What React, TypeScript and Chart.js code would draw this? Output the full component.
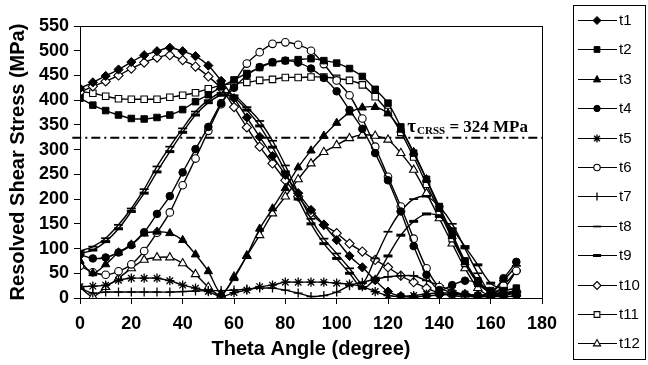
import React, { useEffect, useRef } from 'react';
import { Chart, registerables } from 'chart.js';

Chart.register(...registerables);

// Rotation angle of the loading axis (degrees)
const angles = [0, 5, 10, 15, 20, 25, 30, 35, 40, 45, 50, 55, 60, 65, 70, 75, 80, 85, 90, 95, 100, 105, 110, 115, 120, 125, 130, 135, 140, 145, 150, 155, 160, 165, 170];

// Resolved shear stress (MPa) on each of the twelve slip systems
const t1 = [424, 436, 449, 462, 477, 491, 499, 506, 499, 489, 470, 439, 404, 365, 326, 287, 249, 212, 178, 148, 117, 85, 62, 36, 13, 4, 2, 4, 6, 8, 8, 5, 3, 3, 4];
const t2 = [404, 390, 379, 370, 363, 362, 365, 370, 381, 397, 411, 427, 441, 454, 466, 476, 480, 482, 484, 480, 475, 464, 448, 422, 394, 346, 293, 240, 185, 130, 75, 35, 15, 15, 20];
const t3 = [75, 50, 68, 92, 108, 130, 134, 131, 117, 88, 54, 9, 40, 86, 140, 181, 222, 264, 298, 328, 354, 375, 385, 386, 373, 340, 295, 240, 180, 125, 72, 32, 10, 8, 12];
const t4 = [88, 80, 82, 92, 107, 133, 170, 206, 254, 301, 346, 394, 425, 450, 467, 477, 480, 476, 464, 445, 418, 380, 342, 293, 238, 175, 105, 47, 16, 26, 35, 30, 12, 40, 73];
const t5 = [23, 24, 26, 36, 40, 40, 40, 35, 26, 20, 13, 3, 11, 16, 23, 26, 32, 32, 32, 32, 30, 28, 23, 13, 5, 3, 5, 8, 10, 10, 8, 5, 3, 10, 15];
const t6 = [65, 52, 47, 54, 68, 95, 132, 173, 228, 282, 338, 392, 435, 474, 497, 514, 517, 512, 500, 473, 440, 410, 363, 306, 245, 185, 120, 60, 22, 10, 5, 5, 5, 25, 55];
const t7 = [20, 10, 12, 12, 12, 12, 12, 12, 13, 14, 15, 15, 16, 18, 20, 20, 16, 10, 3, 5, 12, 25, 32, 38, 43, 45, 45, 35, 25, 15, 5, 2, 3, 5, 10];
const t8 = [95, 104, 121, 148, 181, 220, 266, 306, 343, 377, 400, 415, 410, 386, 358, 318, 268, 212, 160, 120, 90, 60, 30, 80, 134, 175, 200, 205, 185, 150, 100, 50, 12, 35, 65];
const t9 = [90, 97, 114, 140, 175, 212, 255, 296, 335, 370, 395, 410, 405, 380, 348, 305, 255, 200, 150, 110, 80, 50, 20, 40, 85, 127, 155, 170, 165, 140, 104, 67, 30, 20, 55];
const t10 = [416, 428, 438, 450, 464, 476, 486, 491, 481, 468, 448, 424, 386, 345, 306, 272, 238, 205, 172, 148, 131, 110, 94, 77, 62, 45, 32, 20, 10, 5, 3, 5, 8, 10, 12];
const t11 = [418, 414, 408, 403, 402, 402, 402, 406, 410, 415, 423, 430, 434, 436, 440, 442, 446, 446, 447, 447, 444, 440, 431, 407, 377, 335, 285, 230, 175, 120, 70, 30, 12, 10, 10];
const t12 = [22, 3, 22, 40, 60, 77, 82, 82, 70, 48, 22, 5, 43, 85, 127, 171, 205, 240, 272, 295, 309, 323, 330, 328, 320, 293, 259, 212, 161, 110, 60, 20, 5, 8, 10];

const seriesNames = ['t1', 't2', 't3', 't4', 't5', 't6', 't7', 't8', 't9', 't10', 't11', 't12'];
const seriesValues = [t1, t2, t3, t4, t5, t6, t7, t8, t9, t10, t11, t12];

// Critical resolved shear stress
const CRSS = 324;

const xTickValues = [0, 20, 40, 60, 80, 100, 120, 140, 160, 180];
const yTickValues = [0, 50, 100, 150, 200, 250, 300, 350, 400, 450, 500, 550];

type Marker = { style: string; filled: boolean; radius: number; width: number };

const markers: Marker[] = [
  { style: 'rectRot', filled: true, radius: 4.6, width: 1 },
  { style: 'rect', filled: true, radius: 4.6, width: 1 },
  { style: 'triangle', filled: true, radius: 4.8, width: 1 },
  { style: 'circle', filled: true, radius: 3.8, width: 1 },
  { style: 'star', filled: false, radius: 4.6, width: 1.3 },
  { style: 'circle', filled: false, radius: 3.8, width: 1.1 },
  { style: 'cross', filled: false, radius: 4.5, width: 1.3 },
  { style: 'line', filled: false, radius: 4.5, width: 1.7 },
  { style: 'line', filled: false, radius: 4.5, width: 3 },
  { style: 'rectRot', filled: false, radius: 4.6, width: 1.1 },
  { style: 'rect', filled: false, radius: 4.6, width: 1.1 },
  { style: 'triangle', filled: false, radius: 4.8, width: 1.1 },
];

const SANS = '"Liberation Sans", Arial, sans-serif';
const SERIF = '"Liberation Serif", "Times New Roman", serif';

// Small marker painter used by the boxed legend
function paintMarker(ctx: CanvasRenderingContext2D, m: Marker, x: number, y: number, r: number) {
  ctx.save();
  ctx.lineWidth = m.width;
  ctx.strokeStyle = '#000';
  ctx.fillStyle = m.filled ? '#000' : '#fff';
  ctx.beginPath();
  switch (m.style) {
    case 'rectRot':
      ctx.moveTo(x, y - r);
      ctx.lineTo(x + r, y);
      ctx.lineTo(x, y + r);
      ctx.lineTo(x - r, y);
      ctx.closePath();
      ctx.fill();
      ctx.stroke();
      break;
    case 'rect': {
      const s = r * 0.72;
      ctx.rect(x - s, y - s, 2 * s, 2 * s);
      ctx.fill();
      ctx.stroke();
      break;
    }
    case 'triangle':
      ctx.moveTo(x, y - r);
      ctx.lineTo(x + r * 0.9, y + r * 0.6);
      ctx.lineTo(x - r * 0.9, y + r * 0.6);
      ctx.closePath();
      ctx.fill();
      ctx.stroke();
      break;
    case 'circle':
      ctx.arc(x, y, r * 0.8, 0, Math.PI * 2);
      ctx.fill();
      ctx.stroke();
      break;
    case 'star': {
      const d = r * 0.7;
      ctx.moveTo(x - r, y); ctx.lineTo(x + r, y);
      ctx.moveTo(x, y - r); ctx.lineTo(x, y + r);
      ctx.moveTo(x - d, y - d); ctx.lineTo(x + d, y + d);
      ctx.moveTo(x - d, y + d); ctx.lineTo(x + d, y - d);
      ctx.stroke();
      break;
    }
    case 'cross':
      ctx.moveTo(x, y - r); ctx.lineTo(x, y + r);
      ctx.stroke();
      break;
    case 'line':
      ctx.moveTo(x - r, y); ctx.lineTo(x + r, y);
      ctx.stroke();
      break;
  }
  ctx.restore();
}

const decorations = {
  id: 'decorations',
  afterDatasetsDraw(chart: any) {
    const { ctx, chartArea, scales } = chart;
    const xs = scales.x;
    const ys = scales.y;
    ctx.save();
    // frame around the plotting area
    ctx.strokeStyle = '#000';
    ctx.lineWidth = 1;
    ctx.strokeRect(chartArea.left + 0.5, chartArea.top + 0.5, chartArea.right - chartArea.left, chartArea.bottom - chartArea.top);

    // CRSS annotation above the dash-dot line
    let x = xs.getPixelForValue(127.5);
    const base = ys.getPixelForValue(CRSS) - 6;
    ctx.fillStyle = '#000';
    ctx.textBaseline = 'alphabetic';
    ctx.textAlign = 'left';
    ctx.font = `bold 19px ${SERIF}`;
    ctx.fillText('τ', x, base);
    x += ctx.measureText('τ').width + 1;
    ctx.font = `bold 11px ${SERIF}`;
    ctx.fillText('CRSS', x, base + 2);
    x += ctx.measureText('CRSS').width;
    ctx.font = `bold 17px ${SERIF}`;
    ctx.fillText(` = ${CRSS} MPa`, x, base);
    ctx.restore();
  },
  afterDraw(chart: any) {
    const { ctx } = chart;
    ctx.save();
    const left = 573, right = 645, top = 5, bottom = 359;
    ctx.strokeStyle = '#000';
    ctx.lineWidth = 1;
    ctx.strokeRect(left + 0.5, top + 0.5, right - left, bottom - top);
    ctx.font = `15px ${SANS}`;
    ctx.textBaseline = 'middle';
    ctx.textAlign = 'left';
    ctx.fillStyle = '#000';
    seriesNames.forEach((name, i) => {
      const y = Math.round(20 + i * 29.4) + 0.5;
      ctx.beginPath();
      ctx.lineWidth = 1.2;
      ctx.moveTo(578, y);
      ctx.lineTo(617, y);
      ctx.stroke();
      paintMarker(ctx, markers[i], 597, y, 4);
      ctx.fillStyle = '#000';
      ctx.fillText(name, 619, y);
    });
    ctx.restore();
  },
};

export default function App() {
  const ref = useRef<HTMLCanvasElement>(null);

  useEffect(() => {
    const canvas = ref.current;
    if (!canvas) return;

    const datasets: any[] = seriesValues.map((vals, i) => {
      const m = markers[i];
      return {
        label: seriesNames[i],
        data: angles.map((a, j) => ({ x: a, y: vals[j] })),
        borderColor: '#000',
        borderWidth: 1.4,
        tension: 0.3,
        pointStyle: m.style,
        pointRadius: m.radius,
        pointBorderWidth: m.width,
        pointBorderColor: '#000',
        pointBackgroundColor: m.filled ? '#000' : '#fff',
        fill: false,
      };
    });

    datasets.push({
      label: 'CRSS',
      data: [{ x: -3, y: CRSS }, { x: 180, y: CRSS }],
      borderColor: '#000',
      borderWidth: 1.8,
      borderDash: [9, 4, 2, 4],
      pointRadius: 0,
      clip: false,
      fill: false,
    });

    const tickFont = { family: SANS, size: 18, weight: 'bold' as const };
    const titleFont = { family: SANS, size: 20, weight: 'bold' as const };

    const chart = new Chart(canvas, {
      type: 'line',
      data: { datasets },
      options: {
        responsive: false,
        animation: false,
        devicePixelRatio: 1,
        layout: { padding: { left: 0, right: 106, top: 26, bottom: 0 } },
        plugins: { legend: { display: false }, tooltip: { enabled: false } },
        scales: {
          x: {
            type: 'linear',
            min: 0,
            max: 180,
            afterBuildTicks: (s: any) => { s.ticks = xTickValues.map((v) => ({ value: v })); },
            afterFit: (s: any) => { s.height = 67; },
            ticks: { autoSkip: false, maxRotation: 0, color: '#000', font: tickFont, padding: 9 },
            grid: { drawOnChartArea: false, drawTicks: true, tickLength: 6, color: '#000' },
            border: { display: true, color: '#000', width: 1 },
            title: { display: true, text: 'Theta Angle (degree)', color: '#000', font: titleFont, padding: { top: 0, bottom: 4 } },
          },
          y: {
            type: 'linear',
            min: 0,
            max: 550,
            afterBuildTicks: (s: any) => { s.ticks = yTickValues.map((v) => ({ value: v })); },
            afterFit: (s: any) => { s.width = 80; },
            ticks: { autoSkip: false, color: '#000', font: tickFont, padding: 5 },
            grid: { drawOnChartArea: false, drawTicks: true, tickLength: 6, color: '#000' },
            border: { display: true, color: '#000', width: 1 },
            title: { display: true, text: 'Resolved Shear Stress (MPa)', color: '#000', font: titleFont, padding: { top: 6, bottom: 0 } },
          },
        },
      } as any,
      plugins: [decorations],
    });

    return () => chart.destroy();
  }, []);

  return (
    <div style={{ position: 'absolute', left: 0, top: 0, width: 648, height: 365, background: '#fff' }}>
      <canvas ref={ref} width={648} height={365} style={{ display: 'block', width: 648, height: 365 }} />
    </div>
  );
}
